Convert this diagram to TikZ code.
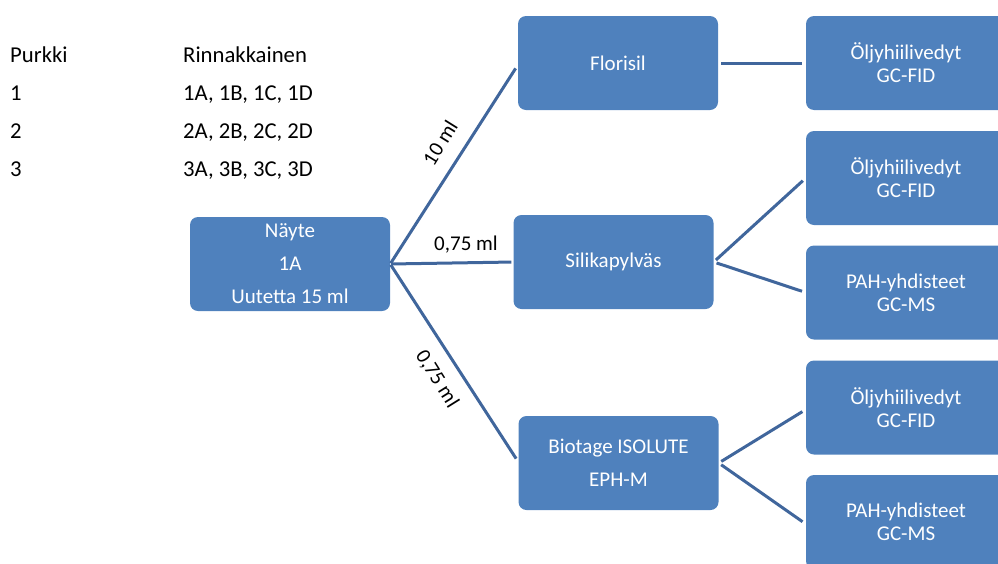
\documentclass[tikz,border=0pt]{standalone}
\usepackage{fontspec}
\setmainfont{Carlito}
\usetikzlibrary{positioning}

\definecolor{boxblue}{RGB}{79,129,189}
\definecolor{lineblue}{RGB}{64,102,156}

\begin{document}
\begin{tikzpicture}[x=1pt,y=1pt,
        box/.style={fill=boxblue, rounded corners=8pt, text=white, minimum width=200pt, minimum height=94pt, align=center, font=\fontsize{21}{33}\selectfont},
        result/.style={box, font=\fontsize{21}{23}\selectfont},
        link/.style={lineblue, line width=3pt, shorten <=3pt, shorten >=4pt},
        mltext/.style={font=\fontsize{21}{25}\selectfont, inner sep=0pt},
        tabtext/.style={anchor=base west, font=\fontsize{22.7}{27}\selectfont, inner sep=0pt}]
        \useasboundingbox (0,0) rectangle (998,-563);
        \clip (0,0) rectangle (998,-563);

        % table of jars
        \node[tabtext] (purkki) at (10,-62) {Purkki};
        \node[tabtext] (rinn) at (183,-62) {Rinnakkainen};
        \foreach \n/\y in {1/100, 2/138, 3/176}
        {
            \node[tabtext] (purkki\n) at (10,-\y) {\n};
            \node[tabtext] (rinn\n) at (183,-\y) {\n A, \n B, \n C, \n D};
        }

        % sample and clean-up steps
        \node[box] (nayte) at (290,-264) {Näyte\\1A\\Uutetta 15 ml};
        \node[box] (flor) at (618,-63) {Florisil};
        \node[box] (sil) at (613.5,-262) {Silikapylväs};
        \node[box] (bio) at (618.5,-463) {Biotage ISOLUTE\\EPH-M};

        % analyses
        \node[result] (oljy1) at (906,-63) {Öljyhiilivedyt\\GC-FID};
        \node[result] (oljy2) at (906,-178) {Öljyhiilivedyt\\GC-FID};
        \node[result] (pah1) at (906,-292.5) {PAH-yhdisteet\\GC-MS};
        \node[result] (oljy3) at (906,-407.5) {Öljyhiilivedyt\\GC-FID};
        \node[result] (pah2) at (906,-522) {PAH-yhdisteet\\GC-MS};

        % connectors
        \draw[link, shorten <=1pt] (nayte.east) -- ([yshift=-2pt]flor.west);
        \draw[link, shorten <=1pt, shorten >=2pt] (nayte.east) -- (sil.west);
        \draw[link, shorten <=1pt] (nayte.east) -- ([yshift=1pt]bio.west);
        \draw[link] (flor.east) -- (oljy1.west);
        \foreach \a in {oljy2, pah1}
        {
            \draw[link] (sil.east) -- (\a.west);
        }
        \foreach \a in {oljy3, pah2}
        {
            \draw[link] (bio.east) -- ([yshift=-2pt]\a.west);
        }

        % volumes
        \node[mltext, rotate=58] (ml10) at (440,-143) {10 ml};
        \node[mltext] (ml075a) at (466,-245) {0,75 ml};
        \node[mltext, rotate=-58] (ml075b) at (437,-379) {0,75 ml};
\end{tikzpicture}
\end{document}
